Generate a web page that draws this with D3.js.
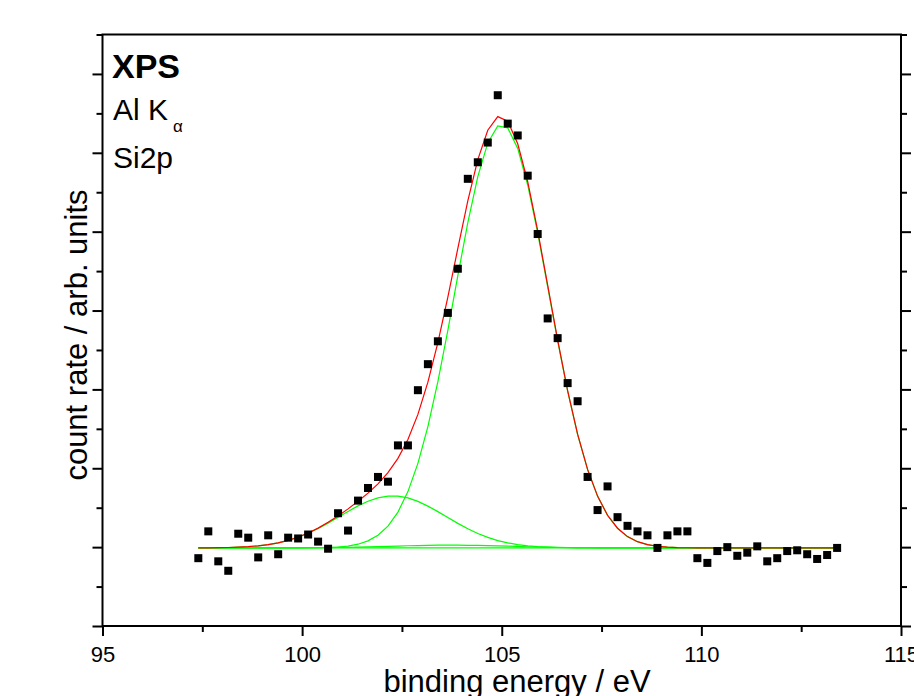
<!DOCTYPE html>
<html>
<head>
<meta charset="utf-8">
<script src="https://cdn.jsdelivr.net/npm/d3@7"></script>
<style>
  html, body { margin: 0; padding: 0; background: #fff; }
  svg { display: block; font-family: "Liberation Sans", Arial, sans-serif; }
</style>
</head>
<body>
<svg id="chart" width="914" height="696"></svg>
<script>
// ---- data ----
const bindingEnergy = [97.4, 97.65, 97.9, 98.15, 98.4, 98.65, 98.9, 99.15, 99.4, 99.65,
  99.9, 100.15, 100.4, 100.65, 100.9, 101.15, 101.4, 101.65, 101.9, 102.15,
  102.4, 102.65, 102.9, 103.15, 103.4, 103.65, 103.9, 104.15, 104.4, 104.65,
  104.9, 105.15, 105.4, 105.65, 105.9, 106.15, 106.4, 106.65, 106.9, 107.15,
  107.4, 107.65, 107.9, 108.15, 108.4, 108.65, 108.9, 109.15, 109.4, 109.65,
  109.9, 110.15, 110.4, 110.65, 110.9, 111.15, 111.4, 111.65, 111.9, 112.15,
  112.4, 112.65, 112.9, 113.15, 113.4];
const countRate = [0.86, 1.20, 0.82, 0.70, 1.17, 1.12, 0.87, 1.15, 0.91, 1.12,
  1.11, 1.16, 1.07, 0.98, 1.43, 1.21, 1.59, 1.75, 1.89, 1.83,
  2.29, 2.29, 2.99, 3.32, 3.61, 3.97, 4.53, 5.67, 5.88, 6.13,
  6.73, 6.37, 6.22, 5.71, 4.97, 3.90, 3.65, 3.08, 2.85, 1.89,
  1.47, 1.77, 1.38, 1.27, 1.20, 1.15, 0.99, 1.15, 1.20, 1.20,
  0.86, 0.80, 0.95, 1.00, 0.89, 0.93, 1.01, 0.82, 0.86, 0.95,
  0.96, 0.91, 0.85, 0.90, 0.99];

// fit components (Gaussian peaks on a flat background)
const fitBackground = 0.99;
const peakCenters = [105.0, 102.27, 103.7];
const peakSigmas  = [1.17, 1.33, 1.5];
const peakHeights = [5.37, 0.66, 0.035];

const xMajorTicks = [95, 100, 105, 110, 115];
const xMinorTicks = [97.5, 102.5, 107.5, 112.5];
const yMajorTicks = [0, 1, 2, 3, 4, 5, 6, 7];
const yMinorTicks = [0.5, 1.5, 2.5, 3.5, 4.5, 5.5, 6.5, 7.5];

const xTitle = "binding energy / eV";
const yTitle = "count rate / arb. units";

// ---- layout ----
const svg = d3.select("#chart");
const plotL = 102.5, plotR = 901, plotT = 34.5, plotB = 626;

const x = d3.scaleLinear().domain([95, 115]).range([plotL, plotR]);
const y = d3.scaleLinear().domain([0, 7.5]).range([plotB, plotT]);

function component(i, e) {
  const d = e - peakCenters[i];
  return peakHeights[i] * Math.exp(-d * d / (2 * peakSigmas[i] * peakSigmas[i]));
}

const line = d3.line().x(d => x(d[0])).y(d => y(d[1]));

// green: background and components
const bgLine = bindingEnergy.map(e => [e, fitBackground]);
svg.append("path").attr("d", line(bgLine))
  .attr("fill", "none").attr("stroke", "#00ff00").attr("stroke-width", 1.2);
peakCenters.forEach((c, i) => {
  const pts = bindingEnergy.map(e => [e, fitBackground + component(i, e)]);
  svg.append("path").attr("d", line(pts))
    .attr("fill", "none").attr("stroke", "#00ff00").attr("stroke-width", 1.2);
});
// red envelope
const envelope = bindingEnergy.map(e => [e, fitBackground + peakCenters.reduce((s, c, i) => s + component(i, e), 0)]);
svg.append("path").attr("d", line(envelope))
  .attr("fill", "none").attr("stroke", "#ff0000").attr("stroke-width", 1.2);

// data squares
const sq = 8;
svg.append("g").selectAll("rect")
  .data(bindingEnergy.map((e, i) => [e, countRate[i]]))
  .join("rect")
  .attr("x", d => x(d[0]) - sq / 2)
  .attr("y", d => y(d[1]) - sq / 2)
  .attr("width", sq).attr("height", sq)
  .attr("fill", "#000");

// ---- axes ----
const axisW = 2;
function styleAxis(g) {
  g.select(".domain").remove();
  g.selectAll("line").attr("stroke", "#000").attr("stroke-width", axisW);
}
// bottom
const gB = svg.append("g").attr("transform", `translate(0,${plotB})`)
  .call(d3.axisBottom(x).tickValues(xMajorTicks).tickSize(10).tickPadding(10).tickFormat(d3.format("d")));
styleAxis(gB);
gB.selectAll("text").attr("font-size", 22).attr("fill", "#000")
  .attr("font-family", "'Liberation Sans', Arial, sans-serif");
const gBm = svg.append("g").attr("transform", `translate(0,${plotB})`)
  .call(d3.axisBottom(x).tickValues(xMinorTicks).tickSize(6).tickFormat(""));
styleAxis(gBm);

// left
const gL = svg.append("g").attr("transform", `translate(${plotL},0)`)
  .call(d3.axisLeft(y).tickValues(yMajorTicks).tickSize(10).tickFormat(""));
styleAxis(gL);
const gLm = svg.append("g").attr("transform", `translate(${plotL},0)`)
  .call(d3.axisLeft(y).tickValues(yMinorTicks).tickSize(6).tickFormat(""));
styleAxis(gLm);
// right
const gR = svg.append("g").attr("transform", `translate(${plotR},0)`)
  .call(d3.axisRight(y).tickValues(yMajorTicks).tickSize(10).tickFormat(""));
styleAxis(gR);
const gRm = svg.append("g").attr("transform", `translate(${plotR},0)`)
  .call(d3.axisRight(y).tickValues(yMinorTicks).tickSize(6).tickFormat(""));
styleAxis(gRm);

// frame
svg.append("rect").attr("x", plotL).attr("y", plotT)
  .attr("width", plotR - plotL).attr("height", plotB - plotT)
  .attr("fill", "none").attr("stroke", "#000").attr("stroke-width", axisW);

// titles
svg.append("text").attr("x", 517).attr("y", 692).attr("text-anchor", "middle")
  .attr("font-size", 31).attr("fill", "#000").text(xTitle);
svg.append("text").attr("transform", "translate(87,335) rotate(-90)")
  .attr("text-anchor", "middle").attr("font-size", 31).attr("fill", "#000").text(yTitle);

// annotations
svg.append("text").attr("x", 112).attr("y", 78).attr("font-size", 34)
  .attr("font-weight", "bold").attr("fill", "#000").text("XPS");
const al = svg.append("text").attr("x", 113).attr("y", 120).attr("font-size", 30).attr("fill", "#000");
al.append("tspan").text("Al K");
al.append("tspan").attr("font-size", 17).attr("dx", 5).attr("dy", 12).text("α");
svg.append("text").attr("x", 113).attr("y", 168).attr("font-size", 30)
  .attr("fill", "#000").text("Si2p");
</script>
</body>
</html>
